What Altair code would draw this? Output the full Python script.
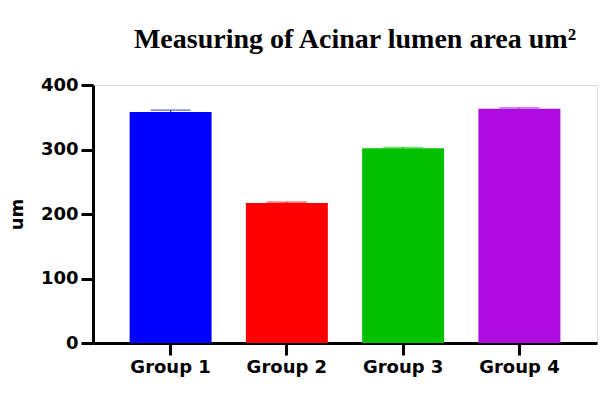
import altair as alt
import pandas as pd

groups = ["Group 1", "Group 2", "Group 3", "Group 4"]
means = [358, 217, 302, 363]
errors = [3, 1.5, 1.5, 1.5]
colors = ["#0000FF", "#FF0000", "#00C000", "#AD0BE0"]
cap_colors = ["#2020D0", "#FF0000", "#00C000", "#AD0BE0"]

df = pd.DataFrame({"group": groups, "mean": means, "err": errors})
df["upper"] = df["mean"] + df["err"]

FONT = "DejaVu Sans"

x = alt.X("group:N", sort=groups,
          scale=alt.Scale(paddingInner=0.295, paddingOuter=0.315),
          axis=alt.Axis(title=None, labelAngle=0, labelFont=FONT,
                        labelFontSize=18, labelFontWeight="bold", labelColor="black",
                        domainColor="black", domainWidth=3, tickColor="black",
                        tickWidth=3, tickSize=12, labelPadding=3))
y = alt.Y("mean:Q", scale=alt.Scale(domain=[0, 400], nice=False),
          axis=alt.Axis(title="um", values=[0, 100, 200, 300, 400], grid=False,
                        titleFont=FONT, titleFontSize=18,
                        titleFontWeight="bold", titleColor="black", titlePadding=14,
                        labelFont=FONT, labelFontSize=18,
                        labelFontWeight="bold", labelColor="black",
                        domainColor="black", domainWidth=3, tickColor="black",
                        tickWidth=3, tickSize=12, labelPadding=3))

color = alt.Color("group:N", scale=alt.Scale(domain=groups, range=colors), legend=None)

bars = alt.Chart(df).mark_bar(opacity=1).encode(x=x, y=y, color=color)

err_rule = alt.Chart(df).mark_rule(strokeWidth=1.2).encode(
    x=alt.X("group:N", sort=groups),
    y="mean:Q", y2="upper:Q",
    color=alt.Color("group:N", scale=alt.Scale(domain=groups, range=cap_colors), legend=None))
err_cap = alt.Chart(df).mark_tick(thickness=1.2, size=40, orient="horizontal").encode(
    x=alt.X("group:N", sort=groups),
    y="upper:Q",
    color=alt.Color("group:N", scale=alt.Scale(domain=groups, range=cap_colors), legend=None))

chart = alt.layer(bars, err_rule, err_cap).resolve_scale(color="independent").properties(
    width=504, height=258,
    padding={"left": 93, "top": 85, "right": 17, "bottom": 52},
    autosize=alt.AutoSizeParams(type="none"),
    title=alt.TitleParams(text="Measuring of Acinar lumen area um²", font="Liberation Serif",
                          fontSize=28, fontWeight="bold", color="black",
                          anchor="middle", offset=22, dx=10),
).configure_view(stroke=None).configure(background="white")

chart.save("out.html", embed_options={"renderer": "svg", "actions": False})
